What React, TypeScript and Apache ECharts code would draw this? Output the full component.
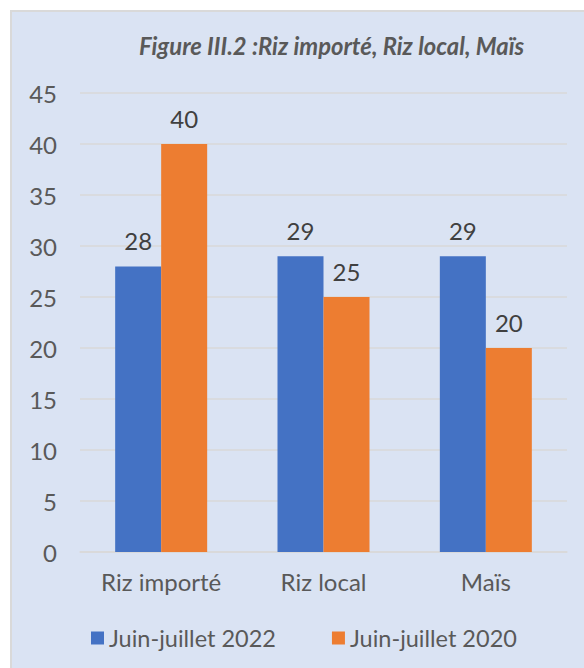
import React, { useEffect, useRef } from "react";
import * as echarts from "echarts";

const categories = ["Riz importé", "Riz local", "Maïs"];
const series2022 = [28, 29, 29];
const series2020 = [40, 25, 20];
const seriesNames = ["Juin-juillet 2022", "Juin-juillet 2020"];
const titleText = "Figure III.2 :Riz importé, Riz local, Maïs";

export default function App() {
  const ref = useRef<HTMLDivElement>(null);
  useEffect(() => {
    if (!ref.current) return;
    const chart = echarts.init(ref.current, null, { renderer: "svg" });
    const font = "Lato";
    const labelStyle = {
      show: true,
      position: "top" as const,
      distance: 14,
      color: "#404040",
      fontSize: 24,
      fontFamily: font,
    };
    chart.setOption({
      animation: false,
      backgroundColor: "#ffffff",
      textStyle: { fontFamily: font },
      graphic: [
        {
          type: "rect",
          z: -10,
          silent: true,
          shape: { x: 11, y: 11, width: 600, height: 700 },
          style: { fill: "#dae3f3", stroke: "#d9d9d9", lineWidth: 2 },
        },
      ],
      title: {
        text: titleText,
        left: 134,
        top: 29,
        textStyle: {
          fontFamily: font,
          fontStyle: "italic",
          fontWeight: "bold",
          fontSize: 23.8,
          color: "#595959",
        },
      },
      grid: { left: 80, right: 17, top: 93, bottom: 116 },
      legend: {
        left: 86,
        top: 621,
        icon: "rect",
        itemWidth: 13,
        itemHeight: 13,
        itemGap: 56,
        textStyle: { fontFamily: font, fontSize: 23.5, color: "#595959" },
        data: seriesNames,
      },
      xAxis: {
        type: "category",
        data: categories,
        axisLine: { lineStyle: { color: "#d9d9d9", width: 1.5 } },
        axisTick: { show: false },
        axisLabel: { fontFamily: font, fontSize: 24, color: "#595959", margin: 17 },
      },
      yAxis: {
        type: "value",
        min: 0,
        max: 45,
        interval: 5,
        axisLine: { show: false },
        axisTick: { show: false },
        splitLine: { lineStyle: { color: "#d9d9d9", width: 1.5 } },
        axisLabel: { fontFamily: font, fontSize: 24, color: "#595959", margin: 23 },
      },
      series: [
        {
          name: seriesNames[0],
          type: "bar",
          data: series2022,
          barWidth: 46,
          barGap: "0%",
          itemStyle: { color: "#4472c4" },
          label: labelStyle,
        },
        {
          name: seriesNames[1],
          type: "bar",
          data: series2020,
          barWidth: 46,
          barGap: "0%",
          itemStyle: { color: "#ed7d31" },
          label: labelStyle,
        },
      ],
    });
    return () => chart.dispose();
  }, []);
  return (
    <div
      ref={ref}
      style={{ position: "absolute", left: 0, top: 0, width: 584, height: 668 }}
    />
  );
}
